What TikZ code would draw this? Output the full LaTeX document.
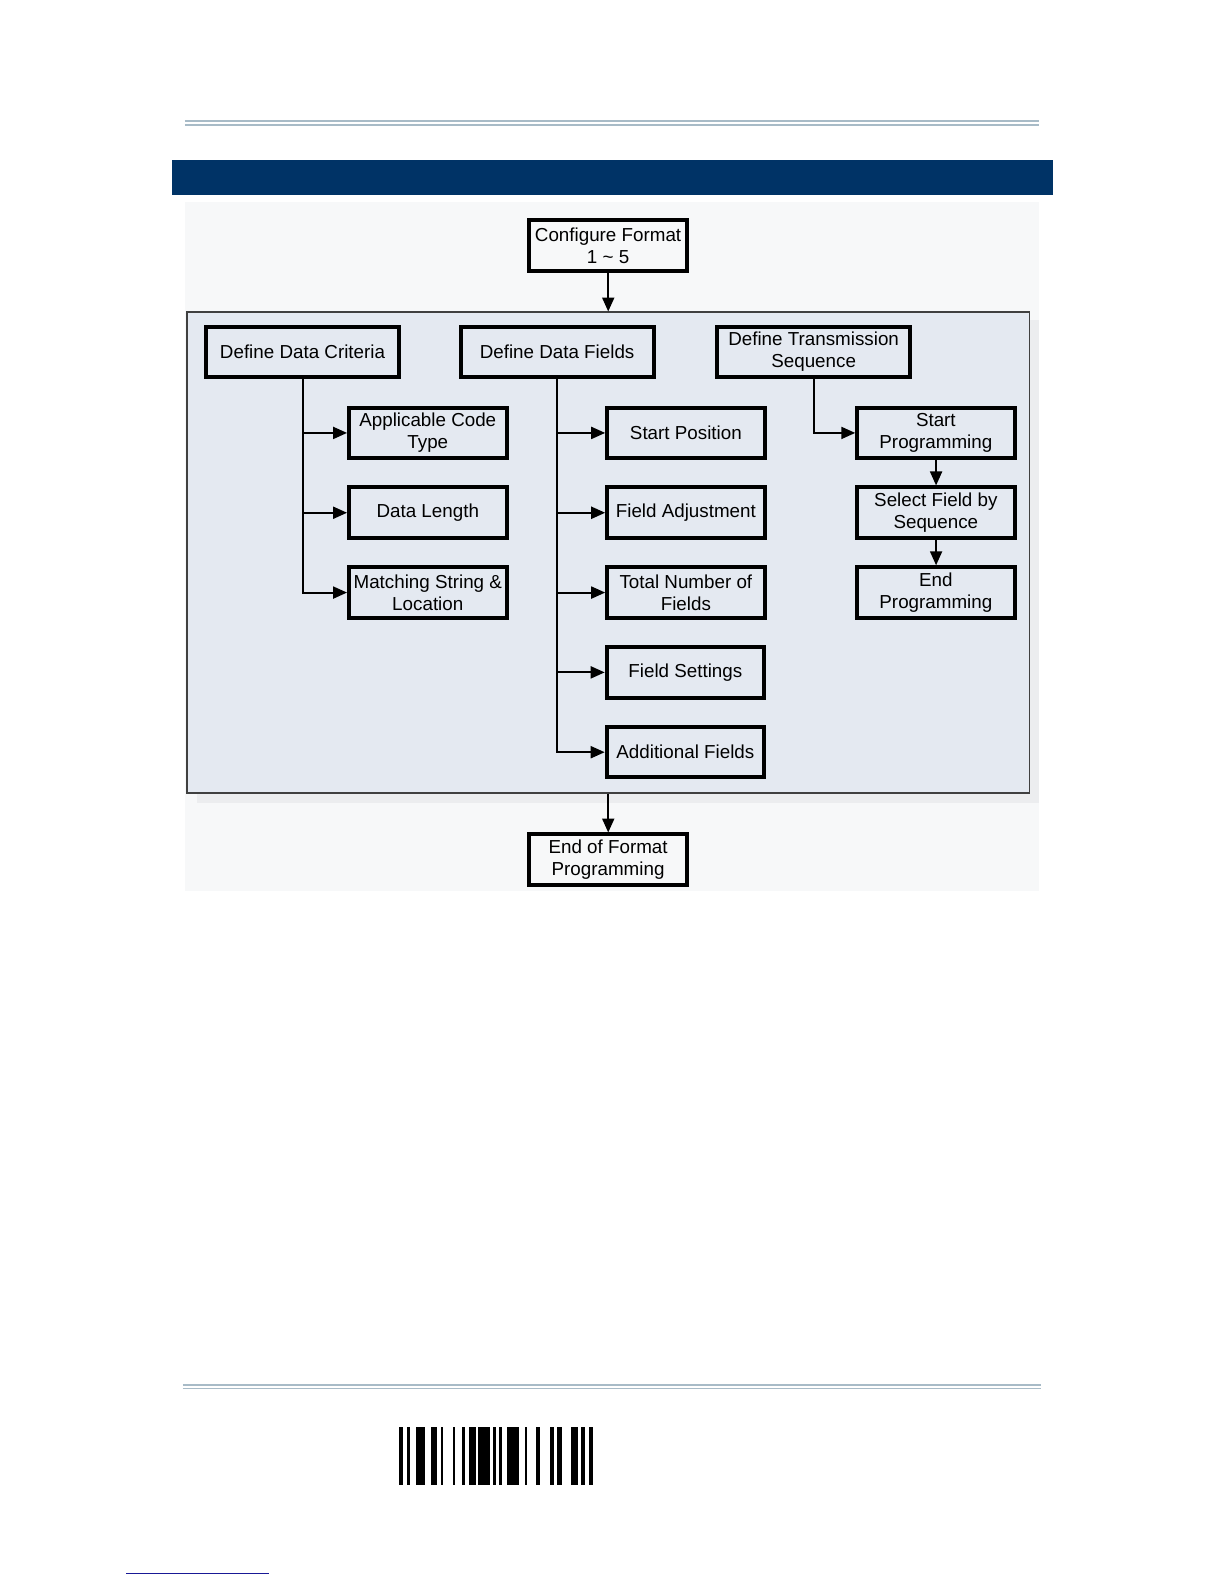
\documentclass[tikz,border=0pt]{standalone}
\usepackage{fontspec}
\setmainfont{Liberation Sans}
\usetikzlibrary{arrows.meta,calc}
\definecolor{barblue}{RGB}{0,51,102}
\definecolor{rulegray}{RGB}{168,187,199}
\definecolor{panelfill}{RGB}{228,233,241}
\definecolor{panelline}{RGB}{64,64,64}
\definecolor{bgfaint}{RGB}{247,248,249}
\definecolor{shadowgray}{RGB}{236,237,239}
\definecolor{linkblue}{RGB}{25,25,150}
\tikzset{
  stepbox/.style={draw=black, line width=2pt, minimum width=78.8pt, minimum height=25.3pt,
    inner sep=1pt, align=center, font=\fontsize{9.4}{11.1}\selectfont},
  widebox/.style={stepbox, minimum width=96.5pt},
  conn/.style={line width=1pt, -{Triangle[length=7pt,width=6pt]}},
}
\begin{document}
\begin{tikzpicture}[x=0.5pt,y=-0.5pt]
\useasboundingbox (0,0) rectangle (1224,1584);
\fill[white] (0,0) rectangle (1224,1584);
\begin{scope}[scale=1.0101]
% top rule
\draw[rulegray, line width=0.8pt] (183,120) -- (1029,120);
\draw[rulegray, line width=0.8pt] (183,123.5) -- (1029,123.5);
% blue bar
\fill[barblue] (170,158) rectangle (1042,193);
% faint background
\fill[bgfaint] (183,200) rectangle (1029,882);
% panel shadow + panel
\fill[shadowgray] (195,317) rectangle (1029,795);
\node[draw=panelline, fill=panelfill, line width=0.7pt, minimum width=421.2pt, minimum height=240.4pt, inner sep=0pt] (panel) at (602,547) {};
% nodes
\node[stepbox] (cfg) at (602,243) {Configure Format\\1 \textasciitilde{} 5};
\node[widebox] (ddc) at (299.5,348.5) {Define Data Criteria};
\node[widebox] (ddf) at (551.5,348.5) {Define Data Fields};
\node[widebox] (dts) at (805.5,348.5) {Define Transmission\\Sequence};
\node[stepbox] (act) at (423.5,428.5) {Applicable Code\\Type};
\node[stepbox] (dl) at (423.5,507.5) {Data Length};
\node[stepbox] (ms) at (423.5,586.5) {Matching String \&\\Location};
\node[stepbox] (sp) at (679,428.5) {Start Position};
\node[stepbox] (fa) at (679,507.5) {Field Adjustment};
\node[stepbox] (tn) at (679,586.5) {Total Number of\\Fields};
\node[stepbox] (fs) at (678.5,665.5) {Field Settings};
\node[stepbox] (af) at (678.5,744.5) {Additional Fields};
\node[stepbox] (stp) at (926.5,428.5) {Start\\Programming};
\node[stepbox] (sel) at (926.5,507.5) {Select Field by\\Sequence};
\node[stepbox] (endp) at (926.5,586.5) {End\\Programming};
\node[stepbox] (eof) at (602,851) {End of Format\\Programming};
% connectors
\draw[conn] (cfg.south) -- (cfg.south |- panel.north);
\draw[conn] (ddc.south) |- (act.west);
\draw[conn] (ddc.south) |- (dl.west);
\draw[conn] (ddc.south) |- (ms.west);
\draw[conn] (ddf.south) |- (sp.west);
\draw[conn] (ddf.south) |- (fa.west);
\draw[conn] (ddf.south) |- (tn.west);
\draw[conn] (ddf.south) |- (fs.west);
\draw[conn] (ddf.south) |- (af.west);
\draw[conn] (dts.south) |- (stp.west);
\draw[conn] (stp.south) -- (sel.north);
\draw[conn] (sel.south) -- (endp.north);
\draw[conn] (eof.north |- panel.south) -- (eof.north);
% bottom rule
\draw[rulegray, line width=0.8pt] (181,1371) -- (1031,1371);
\draw[rulegray, line width=0.8pt] (181,1374.5) -- (1031,1374.5);
% barcode
\foreach \a/\b in {489/495,502/507,517/531,541/550,557/561,577/580,591/597,602/614,618/637,641/647,651/656,665/684,694/697,711/718,735/741,746/753,768/780,784/791,797/804}
  \fill[black] ({395+(\a-489)*0.6095},1413) rectangle ({395+(\b-489)*0.6095},1470);
% bottom-left link line
\draw[linkblue, line width=0.7pt] (125,1558) -- (266,1558);
\end{scope}
\end{tikzpicture}
\end{document}
